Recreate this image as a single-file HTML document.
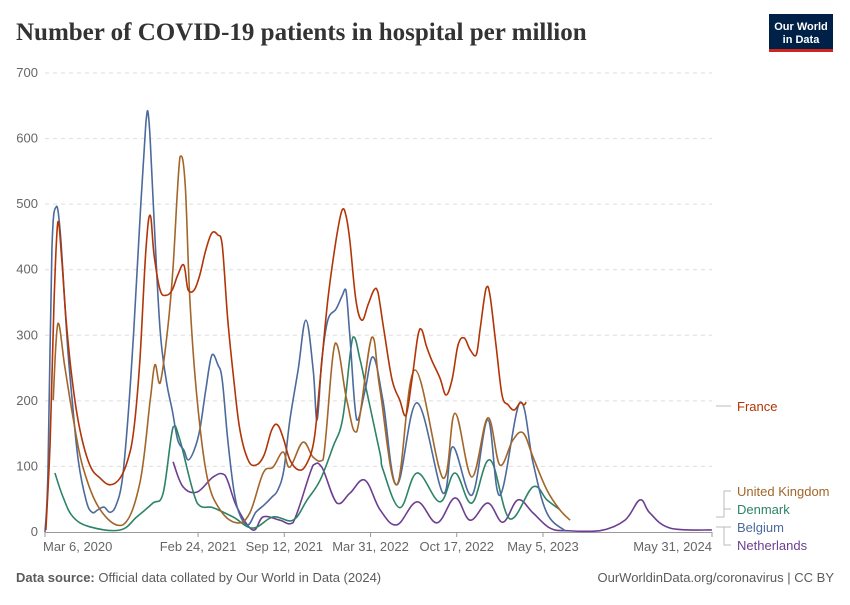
<!DOCTYPE html>
<html><head><meta charset="utf-8"><style>
body{margin:0;background:#fff;width:850px;height:600px;overflow:hidden;font-family:"Liberation Sans",sans-serif}
svg text{font-family:"Liberation Sans",sans-serif}
</style></head><body>
<svg id="c" width="850" height="600">
<text x="16" y="40" font-size="25" font-weight="bold" fill="#333" style="font-family:'Liberation Serif',serif">Number of COVID-19 patients in hospital per million</text>
<g><rect x="769" y="14" width="64" height="38" fill="#002147"/><rect x="769" y="49" width="64" height="3" fill="#ce261e"/>
<text x="801" y="30" font-size="11" font-weight="bold" fill="#fff" text-anchor="middle">Our World</text><text x="801" y="43" font-size="11" font-weight="bold" fill="#fff" text-anchor="middle">in Data</text></g>
<g id="grid"></g><g id="series"></g><g id="legend"></g>
<text x="16" y="582" font-size="13" fill="#5b5b5b"><tspan font-weight="bold">Data source:</tspan> Official data collated by Our World in Data (2024)</text>
<text x="834" y="582" font-size="13" fill="#5b5b5b" text-anchor="end">OurWorldinData.org/coronavirus | CC BY</text>
</svg>
<script>
const yTicks=[0,100,200,300,400,500,600,700];
const xTickDays=[0,355,555,755,955,1155,1547];
const xTickLabels=["Mar 6, 2020","Feb 24, 2021","Sep 12, 2021","Mar 31, 2022","Oct 17, 2022","May 5, 2023","May 31, 2024"];
const seriesNames=["France","United Kingdom","Denmark","Belgium","Netherlands"];
const seriesColors=["#b13507","#a2662a","#2c8465","#4c6a9c","#6d3e91"];
const franceDays=[2,12,21,30,39,49,63,81,104,128,151,174,192,206,220,234,244,253,267,281,295,308,322,332,346,359,373,387,401,411,424,438,452,471,489,508,526,540,554,568,587,605,624,638,656,675,689,698,707,721,735,749,763,772,786,805,823,837,851,865,874,884,897,916,930,944,958,972,986,1000,1009,1023,1032,1046,1060,1074,1088,1102,1111,1116];
const franceVals=[3,140,354,473,415,323,232,156,102,82,72,82,110,156,262,430,483,422,369,361,369,392,407,369,369,392,430,456,453,438,323,232,156,110,102,117,156,163,140,110,95,102,140,232,354,445,491,483,445,354,323,346,369,366,308,232,201,178,232,300,308,285,262,235,209,232,285,296,278,270,308,372,361,285,209,194,186,197,194,198];
const belgiumDays=[0,7,16,26,35,44,53,63,77,95,109,123,137,151,165,179,192,206,220,234,239,244,253,267,281,295,308,322,332,346,359,373,387,401,411,424,438,452,471,489,508,526,540,554,568,587,605,622,631,642,656,675,689,698,707,723,742,761,784,816,863,923,946,990,1027,1055,1102,1132,1164,1206];
const belgiumVals=[0,95,430,496,460,369,277,201,110,49,30,34,38,30,41,79,171,308,475,625,640,598,475,308,232,186,140,125,110,125,156,217,270,255,232,140,64,26,11,30,41,53,64,95,171,247,323,247,171,262,323,340,360,369,300,171,215,267,200,72,197,59,130,56,171,56,198,105,29,2];
const ukDays=[19,30,46,65,88,128,181,220,244,255,267,285,297,313,325,336,353,376,406,445,475,506,529,552,568,598,622,645,673,700,723,758,777,816,858,923,951,990,1027,1055,1085,1109,1132,1164,1194,1218];
const ukVals=[201,318,252,175,99,34,11,75,201,255,227,313,404,572,532,354,201,84,34,14,29,90,99,122,99,137,114,110,288,201,153,297,217,72,247,82,181,84,174,102,140,151,114,64,34,18];
const denmarkDays=[23,42,65,104,174,213,250,274,297,313,353,390,436,482,529,575,608,638,668,691,714,731,747,777,784,823,863,916,951,990,1032,1078,1132,1164,1194];
const denmarkVals=[90,53,23,8,3,23,44,59,160,140,44,37,23,6,23,18,49,79,130,175,297,262,212,120,95,37,90,46,90,44,110,20,69,49,34];
const nlDays=[297,320,353,390,417,445,482,506,545,575,622,642,677,707,742,777,816,863,909,951,986,1027,1062,1097,1132,1171,1211,1287,1345,1380,1403,1450,1547];
const nlVals=[107,69,61,84,87,38,3,23,18,14,102,99,44,59,79,34,11,46,14,52,18,44,15,49,29,6,2,2,18,49,29,6,3];
const legendY=[406,491,509,527,545];

const X0=45,X1=712,Y0=532,Y1=73,DMAX=1547,VMAX=700;
const xs=d=>X0+d/DMAX*(X1-X0);
const ys=v=>Y0-v/VMAX*(Y0-Y1);
const NS="http://www.w3.org/2000/svg";
function mk(t,a,p){const e=document.createElementNS(NS,t);for(const k in a)e.setAttribute(k,a[k]);p.appendChild(e);return e;}
function smooth(P){
  let d='M'+P[0][0].toFixed(1)+','+P[0][1].toFixed(1);
  for(let i=0;i<P.length-1;i++){
    const p0=P[Math.max(0,i-1)],p1=P[i],p2=P[i+1],p3=P[Math.min(P.length-1,i+2)];
    const t=0.18;
    let c1y=p1[1]+(p2[1]-p0[1])*t,c2y=p2[1]-(p3[1]-p1[1])*t;
    const lo=Math.min(p1[1],p2[1]),hi=Math.max(p1[1],p2[1]);
    c1y=Math.min(Math.max(c1y,lo-3),Math.max(hi,Y0)>Y0?hi:Math.min(Y0,hi+3));
    c2y=Math.min(Math.max(c2y,lo-3),Math.min(Y0,hi+3));
    c1y=Math.min(c1y,Y0);c2y=Math.min(c2y,Y0);
    d+=' C'+(p1[0]+(p2[0]-p0[0])*t).toFixed(1)+','+c1y.toFixed(1)+' '+(p2[0]-(p3[0]-p1[0])*t).toFixed(1)+','+c2y.toFixed(1)+' '+p2[0].toFixed(1)+','+p2[1].toFixed(1);
  }
  return d;
}
const grid=document.getElementById('grid');
yTicks.forEach(v=>{
  if(v>0){const l=mk('line',{x1:X0,x2:X1,y1:ys(v),y2:ys(v),stroke:'#ddd','stroke-dasharray':'4,4'},grid);
  
  }
  const t=mk('text',{x:38,y:ys(v)+4,'font-size':13,fill:'#666','text-anchor':'end'},grid);t.textContent=v;
  
  
});
const ax=mk('line',{x1:X0,x2:X1,y1:Y0+0.5,y2:Y0+0.5,stroke:'#999'},grid);


xTickDays.forEach((d,i)=>{
  const tk=mk('line',{x1:xs(d),x2:xs(d),y1:Y0,y2:Y0+5,stroke:'#999'},grid);
  
  
  const anchor=i==0?'start':(i==xTickDays.length-1?'end':'middle');
  const t=mk('text',{x:i==0?xs(d)-2:xs(d),y:551,'font-size':13,fill:'#666','text-anchor':anchor},grid);t.textContent=xTickLabels[i];
  
  
});
const data=[[franceDays,franceVals],[ukDays,ukVals],[denmarkDays,denmarkVals],[belgiumDays,belgiumVals],[nlDays,nlVals]];
const sg=document.getElementById('series');
[4,2,3,1,0].forEach(i=>{
  const [ds,vs]=data[i];
  const P=ds.map((d,j)=>[xs(d),ys(vs[j])]);
  const p=mk('path',{d:smooth(P),fill:'none',stroke:seriesColors[i],'stroke-width':1.6,'stroke-linejoin':'round'},sg);
  
  
});
const lg=document.getElementById('legend');
const connStart=[406,517,517,527,527];
seriesNames.forEach((n,i)=>{
  const c=mk('polyline',{points:`716,${connStart[i]} 724,${connStart[i]} 724,${legendY[i]} 731,${legendY[i]}`,fill:'none',stroke:'#bbb'},lg);
  
  
  const t=mk('text',{x:737,y:legendY[i]+5,'font-size':13,fill:seriesColors[i]},lg);t.textContent=n;
  
  
});
</script>
</body></html>
